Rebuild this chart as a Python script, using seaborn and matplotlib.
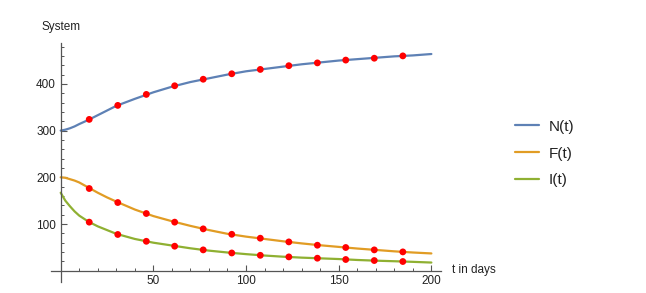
import pandas as pd
import numpy as np
import matplotlib
matplotlib.use('Agg')
import matplotlib.pyplot as plt
from matplotlib.ticker import FixedLocator
import seaborn as sns

# smooth solution curves
t_line = [0, 2.5, 5, 7.5, 10, 15, 20, 25, 30, 40, 50, 60, 70, 80, 90, 100,
          110, 120, 130, 140, 150, 160, 170, 180, 190, 200]
n_line = [300, 302, 305, 309, 314, 323, 333, 343, 353, 368, 382, 394, 404, 412, 420, 427,
          432, 437, 442, 446, 450, 453, 456, 459, 461, 464]
f_line = [200, 199, 196, 193, 189, 178, 167, 157, 148, 131, 117, 106, 96, 87, 79, 73,
          68, 63, 58.5, 54.5, 51, 47.5, 44.5, 41.5, 39, 37]
i_line = [167, 150, 138, 127, 118, 105, 95, 87, 79, 68, 60, 54, 48, 43, 39, 35.5,
          32.5, 30, 28, 26.5, 25, 23, 21.5, 20.3, 19, 17.5]

# measured data points (red dots)
t_obs = [15.4, 30.8, 46.2, 61.5, 76.9, 92.3, 107.7, 123.1, 138.5, 153.8, 169.2, 184.6]
n_obs = [324, 354, 377.5, 396, 410, 421.7, 431, 439, 445, 451, 455, 460]
f_obs = [176, 146, 122.5, 104, 89.6, 78, 69.6, 61.7, 54.6, 49.7, 44.6, 40.3]
i_obs = [104, 77.6, 63, 52.5, 44.6, 38, 33, 29.6, 26.8, 24, 21.8, 19.7]

series = ['N(t)', 'F(t)', 'I(t)']
colors = {'N(t)': '#5E81B5', 'F(t)': '#E19C24', 'I(t)': '#8FB032'}

lines = pd.DataFrame({
    't': t_line * 3,
    'value': n_line + f_line + i_line,
    'series': np.repeat(series, len(t_line)),
})
dots = pd.DataFrame({
    't': t_obs * 3,
    'value': n_obs + f_obs + i_obs,
})

sns.set_style('white')
plt.rcParams['font.family'] = ['Liberation Sans', 'DejaVu Sans']

fig = plt.figure(figsize=(6.46, 2.93), dpi=100)
ax = fig.add_axes([0.0796, 0.0386, 0.6025, 0.8137])

sns.lineplot(data=lines, x='t', y='value', hue='series', hue_order=series,
             palette=colors, linewidth=1.6, ax=ax, legend=True)
sns.scatterplot(data=dots, x='t', y='value', color='#FF0000', s=24,
                edgecolor='none', ax=ax, legend=False, zorder=3)

ax.set_xlim(-5, 205)
ax.set_ylim(-23.5, 487)

for s in ['top', 'right']:
    ax.spines[s].set_visible(False)
ax.spines['left'].set_position(('data', 0))
ax.spines['bottom'].set_position(('data', 0))
for s in ['left', 'bottom']:
    ax.spines[s].set_color('#555555')
    ax.spines[s].set_linewidth(0.9)

ax.xaxis.set_major_locator(FixedLocator([50, 100, 150, 200]))
ax.xaxis.set_minor_locator(FixedLocator([v for v in range(10, 201, 10) if v % 50]))
ax.yaxis.set_major_locator(FixedLocator([100, 200, 300, 400]))
ax.yaxis.set_minor_locator(FixedLocator([v for v in range(20, 481, 20) if v % 100]))
ax.tick_params(which='both', direction='in', colors='#555555', labelcolor='#222222',
               labelsize=8.5, pad=3.4)
ax.tick_params(which='major', length=4, width=0.8)
ax.tick_params(which='minor', length=2.5, width=0.7)
ax.tick_params(axis='x', which='both', bottom=True)
ax.tick_params(axis='y', which='both', left=True)

ax.set_xlabel('')
ax.set_ylabel('')
fig.text(41 / 646, 1 - 26.7 / 293, 'System', fontsize=8.5, color='#222222',
         ha='left', va='center')
fig.text(451.5 / 646, 1 - 270 / 293, 't in days', fontsize=8.5, color='#222222',
         ha='left', va='center')

handles, labels = ax.get_legend_handles_labels()
ax.get_legend().remove()
fig.legend(handles, labels, loc='upper left', bbox_to_anchor=(515 / 646, 0.5915),
           frameon=False, fontsize=11, handlelength=1.6, handletextpad=0.6,
           labelspacing=0.84, borderpad=0, borderaxespad=0, labelcolor='#222222')

fig.savefig('out.png', dpi=100)
